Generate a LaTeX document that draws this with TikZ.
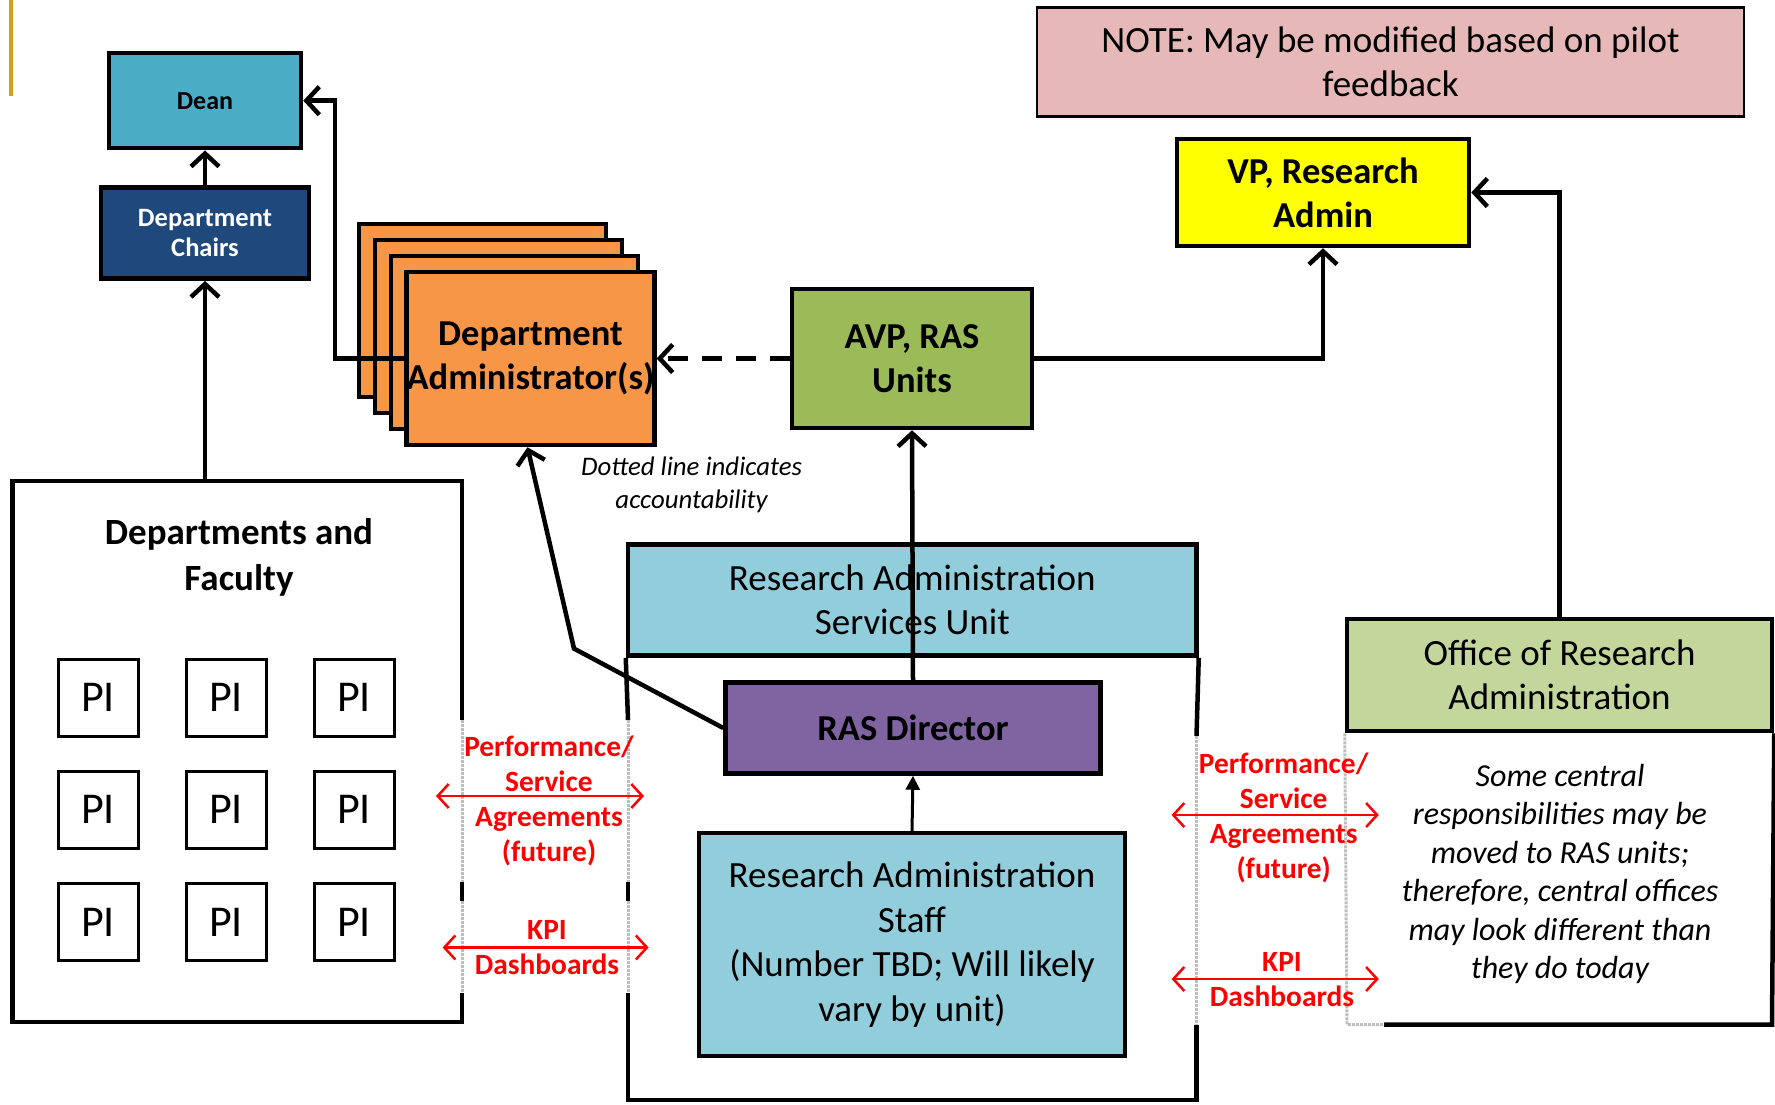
\documentclass[tikz,border=0pt]{standalone}
\usepackage{fontspec}
\setmainfont{Carlito}
\usetikzlibrary{arrows.meta,calc}
\definecolor{deanblue}{HTML}{4BACC6}
\definecolor{chairblue}{HTML}{1F497D}
\definecolor{admorange}{HTML}{F79646}
\definecolor{avpgreen}{HTML}{9BBB59}
\definecolor{vpyellow}{HTML}{FFFF00}
\definecolor{notepink}{HTML}{E6B9B8}
\definecolor{rasblue}{HTML}{92CDDC}
\definecolor{dirpurple}{HTML}{8064A2}
\definecolor{oragreen}{HTML}{C3D69B}
\definecolor{goldbar}{RGB}{212,160,23}
\definecolor{gapgray}{RGB}{190,190,190}
\newcommand\sz[2]{\fontsize{#1}{#2}\selectfont}

\begin{document}
\begin{tikzpicture}[x=1pt,y=-1pt,
  box/.style={draw, line width=4.5pt, inner sep=0pt, align=center},
  pibox/.style={draw, line width=3pt, minimum width=80pt, minimum height=77pt, inner sep=0pt, font=\sz{44}{50}},
  frame/.style={line width=4.5pt, line join=miter},
  gapline/.style={gapgray, line width=3pt, densely dotted},
  conn/.style={line width=4.5pt, line join=miter, -{Straight Barb[length=13pt,width=28pt]}},
  smallconn/.style={line width=3pt, -{Triangle[length=14pt,width=14pt]}},
  redconn/.style={red, line width=2.5pt, {Straight Barb[length=11pt,width=24pt]}-{Straight Barb[length=11pt,width=24pt]}},
  redlabel/.style={text=red, align=center, font=\sz{29.4}{35}\bfseries, inner sep=0pt},
  spacer/.style={inner sep=0pt, outer sep=0pt},
  bigbold/.style={font=\sz{36.5}{44}\bfseries},
  plain/.style={font=\sz{37}{44}},
]
\useasboundingbox (0,0) rectangle (1775,1104);

% side accent
\draw[goldbar, line width=4pt] (11,0) -- (11,96);

% note
\node[box, line width=2.5pt, fill=notepink, minimum width=707pt, minimum height=109pt, plain] (note) at (1390.5,62) {NOTE: May be modified based on pilot\\feedback};

% college side
\node[box, fill=deanblue, minimum width=192pt, minimum height=95pt, font=\sz{26}{31}\bfseries] (dean) at (205,100.7) {Dean};
\node[box, fill=chairblue, text=white, minimum width=208pt, minimum height=91pt, font=\sz{26.5}{30.5}\bfseries] (chairs) at (205,233.2) {Department\\Chairs};

% departments and faculty frame
\node[spacer, minimum width=449.5pt, minimum height=541pt] (dept) at (237.25,751.5) {};
\draw[frame] (dept.north east |- 0,720) -- (dept.north east) -- (dept.north west) -- (dept.south west) -- (dept.south east) -- (dept.south east |- 0,993);
\draw[frame] (dept.north east |- 0,882) -- (dept.north east |- 0,901);
\draw[gapline] (dept.north east |- 0,720) -- (dept.north east |- 0,882);
\draw[gapline] (dept.north east |- 0,901) -- (dept.north east |- 0,993);
\node[align=center, font=\sz{37}{46}\bfseries, inner sep=0pt] (depttitle) at (239,557) {Departments and\\Faculty};
\foreach \r/\y in {1/697.5,2/809.5,3/922}{
  \foreach \c/\x in {1/98,2/226,3/354}{
    \node[pibox] (pi-\r-\c) at (\x,\y) {PI};
  }
}

% department administrators (stacked)
\foreach \k in {3,2,1}{
  \node[box, fill=admorange, minimum width=247pt, minimum height=173pt] (adm\k) at ({530.5-16*\k},{358.5-16*\k}) {};
}
\coordinate (bendA) at (335,358.5);
\draw[conn] (530.5-123.5,358.5) -- (bendA) |- (dean.east);
\node[box, fill=admorange, minimum width=247pt, minimum height=173pt, bigbold] (adm) at (530.5,358.5) {Department\\Administrator(s)};

% vice presidents
\node[box, fill=avpgreen, minimum width=240pt, minimum height=139pt, bigbold] (avp) at (912,358.5) {AVP, RAS\\Units};
\node[box, fill=vpyellow, minimum width=292pt, minimum height=107pt, bigbold] (vp) at (1323,192.5) {VP, Research\\Admin};

% RAS unit
\node[spacer, minimum width=568.5pt, minimum height=555.5pt] (rasbox) at (912.25,822.25) {};
\node[box, fill=rasblue, minimum width=568.5pt, minimum height=111pt, plain] (rashead) at (912.25,600) {Research Administration\\Services Unit};
\draw[frame] (rashead.south west) -- (rasbox.west |- 0,720);
\draw[frame] (rasbox.west |- 0,882) -- (rasbox.west |- 0,901);
\draw[frame] (rasbox.west |- 0,993) -- (rasbox.south west) -- (rasbox.south east) -- (rasbox.east |- 0,1024.5);
\draw[frame] (rashead.south east) -- (rasbox.east |- 0,736);
\draw[gapline] (rasbox.west |- 0,720) -- (rasbox.west |- 0,882);
\draw[gapline] (rasbox.west |- 0,901) -- (rasbox.west |- 0,993);
\draw[gapline] (rasbox.east |- 0,736) -- (rasbox.east |- 0,1024.5);
\node[box, fill=dirpurple, minimum width=375pt, minimum height=91pt, bigbold] (dir) at (913,728) {RAS Director};
\node[box, fill=rasblue, minimum width=426pt, minimum height=223pt, font=\sz{37}{44.6}] (staff) at (912,944.7) {Research Administration\\Staff\\(Number TBD; Will likely\\vary by unit)};

% office of research administration
\node[spacer, minimum width=425pt, minimum height=405.5pt] (orabox) at (1559.5,821.75) {};
\node[box, fill=oragreen, minimum width=425pt, minimum height=112pt, plain] (orahead) at (1559.5,675) {Office of Research\\Administration};
\draw[frame] (orahead.south east) -- (orabox.south east) -- (1384,1024.5);
\draw[gapline] (orahead.south west) -- (orabox.south west) -- (1384,1024.5);
\node[align=center, font=\sz{32}{38.5}\itshape, inner sep=0pt] (oratext) at (1560,874) {Some central\\responsibilities may be\\moved to RAS units;\\therefore, central offices\\may look different than\\they do today};

% reporting lines
\draw[conn] (chairs.south |- dept.north) -- (chairs.south);
\draw[conn] (chairs.north) -- (dean.south);
\draw[conn, dash pattern=on 20pt off 14pt] (avp.west) -- (adm.east);
\draw[conn] (avp.east) -| (vp.south);
\draw[conn] (orahead.north) |- (vp.east);
\draw[conn] (dir.north) -- (avp.south);
\draw[smallconn] (staff.north) -- (dir.south);
\coordinate (bendB) at (574,648.6);
\draw[conn] (dir.west) -- (bendB) -- ($(adm.south)+(-3,0)$);

\node[align=center, font=\sz{26.8}{33}\itshape, inner sep=0pt] (dottednote) at (691.6,485) {Dotted line indicates\\accountability};

% service agreements and dashboards
\coordinate (lpa) at (436,796);   \coordinate (lpb) at (644,796);
\coordinate (lka) at (442.6,947.5); \coordinate (lkb) at (648.6,947.5);
\coordinate (rpa) at (1171.6,815); \coordinate (rpb) at (1378.8,815);
\coordinate (rka) at (1171.6,979); \coordinate (rkb) at (1378.8,979);
\draw[redconn] (lpa) -- (lpb);
\draw[redconn] (lka) -- (lkb);
\draw[redconn] (rpa) -- (rpb);
\draw[redconn] (rka) -- (rkb);
\node[redlabel] (lperf) at (549,801) {Performance/\\Service\\Agreements\\(future)};
\node[redlabel] (lkpi) at (547,948) {KPI\\Dashboards};
\node[redlabel] (rperf) at (1283.7,818) {Performance/\\Service\\Agreements\\(future)};
\node[redlabel] (rkpi) at (1282,979.5) {KPI\\Dashboards};
\end{tikzpicture}
\end{document}
